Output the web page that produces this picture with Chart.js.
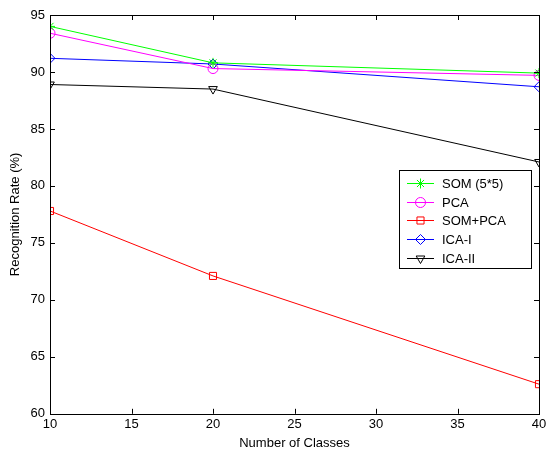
<!DOCTYPE html>
<html><head><meta charset="utf-8">
<script src="https://cdn.jsdelivr.net/npm/chart.js@4"></script>
<style>html,body{margin:0;padding:0;background:#fff}#wrap{width:546px;height:455px}</style>
</head><body><div id="wrap"><canvas id="c" width="546" height="455"></canvas></div>
<script>
const classes = [10, 20, 40];
const somValues = [94.0, 90.8, 89.9];
const pcaValues = [93.4, 90.3, 89.7];
const somPcaValues = [77.8, 72.1, 62.6];
const icaIValues = [91.2, 90.7, 88.7];
const icaIIValues = [88.9, 88.5, 82.1];
const seriesLabels = ['SOM (5*5)', 'PCA', 'SOM+PCA', 'ICA-I', 'ICA-II'];
const xTicks = [10, 15, 20, 25, 30, 35, 40];
const yTicks = [60, 65, 70, 75, 80, 85, 90, 95];

const FONT = 'Liberation Sans, Arial, sans-serif';
function pts(vals){ return classes.map((x,i)=>({x:x,y:vals[i]})); }
function ds(label, vals, color, style, radius, rot){
  return {label:label, data:pts(vals), borderColor:color, backgroundColor:'rgba(0,0,0,0)',
    pointBorderColor:color, pointBackgroundColor:'rgba(0,0,0,0)', borderWidth:1, pointBorderWidth:1,
    pointStyle:style, pointRadius:radius, pointRotation:rot||0, pointHoverRadius:radius, tension:0, fill:false};
}
const datasets = [
  ds(seriesLabels[0], somValues, '#00ff00', 'star', 5),
  ds(seriesLabels[1], pcaValues, '#ff00ff', 'circle', 5),
  ds(seriesLabels[2], somPcaValues, '#ff0000', 'rect', 5),
  ds(seriesLabels[3], icaIValues, '#0000ff', 'rectRot', 5),
  ds(seriesLabels[4], icaIIValues, '#000000', 'triangle', 5, 180)
];

const frame = {
  id:'frame',
  afterDatasetsDraw(chart){
    const ctx = chart.ctx, a = chart.chartArea, xs = chart.scales.x, ys = chart.scales.y;
    ctx.save();
    ctx.strokeStyle = '#000'; ctx.lineWidth = 1;
    ctx.strokeRect(Math.round(a.left)+0.5, Math.round(a.top)+0.5, Math.round(a.right-a.left), Math.round(a.bottom-a.top));
    const L = 5;
    ctx.beginPath();
    xTicks.forEach(v=>{
      const px = Math.round(xs.getPixelForValue(v))+0.5;
      ctx.moveTo(px, a.bottom); ctx.lineTo(px, a.bottom-L);
      ctx.moveTo(px, a.top); ctx.lineTo(px, a.top+L);
    });
    yTicks.forEach(v=>{
      const py = Math.round(ys.getPixelForValue(v))+0.5;
      ctx.moveTo(a.left, py); ctx.lineTo(a.left+L, py);
      ctx.moveTo(a.right, py); ctx.lineTo(a.right-L, py);
    });
    ctx.stroke();
    // legend
    const bx=399.5, by=170.5, bw=132, bh=98;
    ctx.fillStyle='#fff'; ctx.fillRect(bx,by,bw,bh);
    ctx.strokeStyle='#000'; ctx.strokeRect(bx,by,bw,bh);
    const rows=[182.5,201.5,220,239,257.5];
    chart.data.datasets.forEach((d,i)=>{
      const y = Math.round(rows[i])+0.5;
      ctx.strokeStyle=d.borderColor; ctx.lineWidth=1;
      ctx.beginPath(); ctx.moveTo(407,y); ctx.lineTo(434,y); ctx.stroke();
      ctx.fillStyle='rgba(0,0,0,0)';
      Chart.helpers.drawPoint(ctx,{pointStyle:d.pointStyle, radius:d.pointRadius, rotation:d.pointRotation, borderWidth:1}, 420.5, y);
      ctx.fillStyle='#000'; ctx.font='13px '+FONT; ctx.textBaseline='middle'; ctx.textAlign='left';
      ctx.fillText(d.label, 442, y+0.5);
    });
    ctx.restore();
  }
};

new Chart(document.getElementById('c'), {
  type:'line',
  data:{datasets:datasets},
  options:{
    responsive:false, animation:false, devicePixelRatio:1,
    layout:{padding:{left:8, top:15, right:7, bottom:4}},
    plugins:{legend:{display:false}, tooltip:{enabled:false}},
    scales:{
      x:{type:'linear', min:10, max:40,
        afterBuildTicks(s){ s.ticks = xTicks.map(v=>({value:v})); },
        afterFit(s){ s.paddingRight = 0; s.paddingLeft = 0; },
        grid:{display:false, drawTicks:false}, border:{display:false},
        ticks:{color:'#000', font:{family:FONT,size:13}, padding:3, maxRotation:0},
        title:{display:true, text:'Number of Classes', color:'#000', font:{family:FONT,size:13}, padding:{top:0,bottom:0}}
      },
      y:{type:'linear', min:60, max:95,
        afterBuildTicks(s){ s.ticks = yTicks.map(v=>({value:v})); },
        afterFit(s){ s.width = 42; },
        grid:{display:false, drawTicks:false}, border:{display:false},
        ticks:{color:'#000', font:{family:FONT,size:13}, padding:5},
        title:{display:true, text:'Recognition Rate (%)', color:'#000', font:{family:FONT,size:13}, padding:{top:0,bottom:2}}
      }
    }
  },
  plugins:[frame]
});
</script></body></html>
